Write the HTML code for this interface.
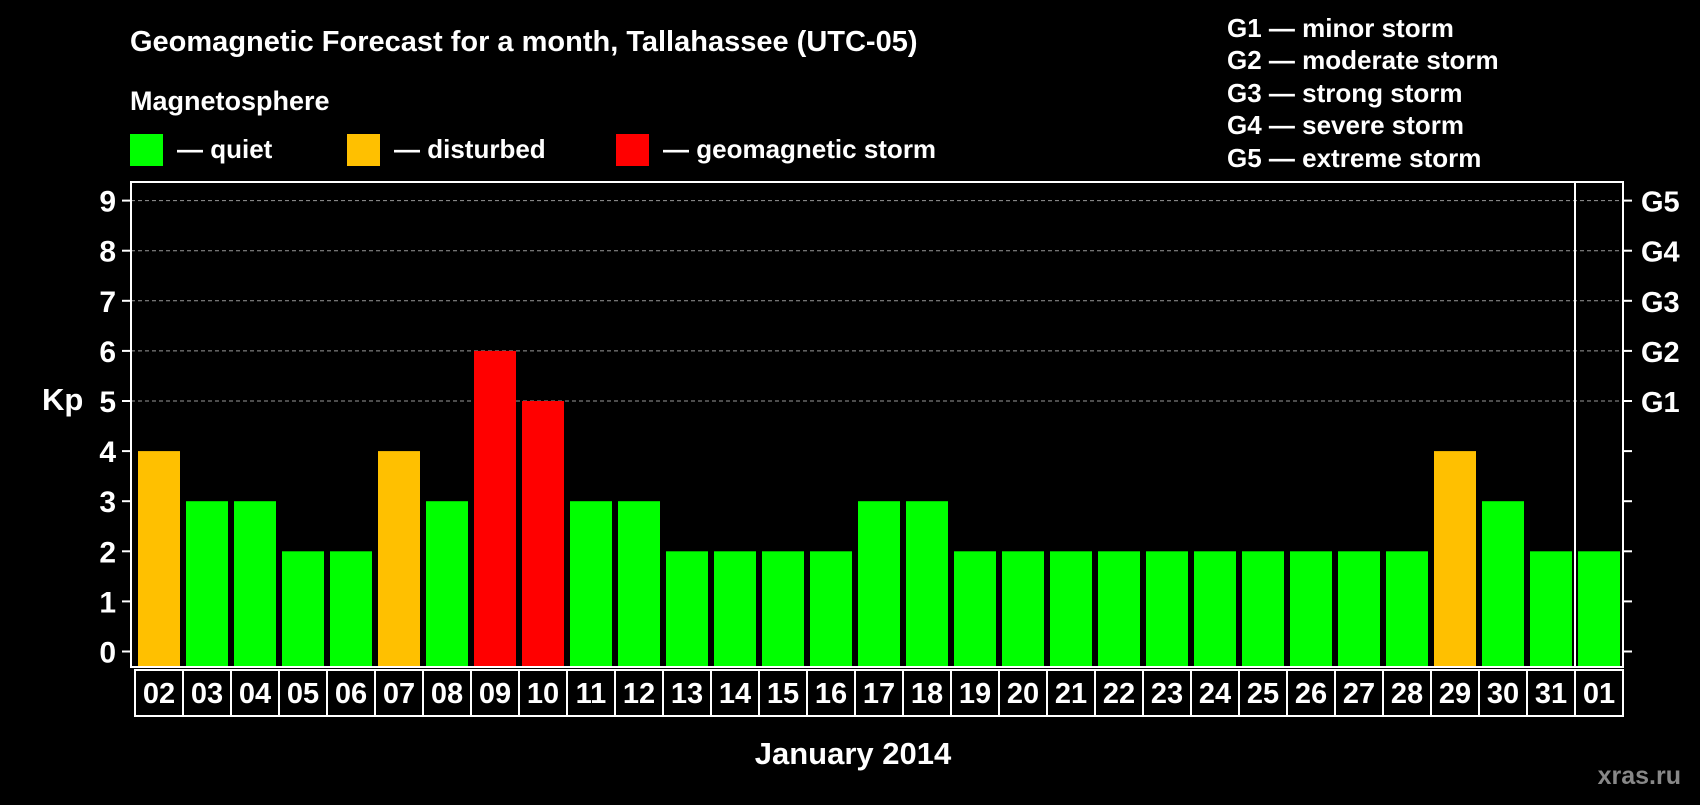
<!DOCTYPE html>
<html><head><meta charset="utf-8"><style>
body{margin:0;background:#000;width:1700px;height:800px;overflow:hidden}
svg text{font-family:"Liberation Sans",sans-serif;font-weight:bold;fill:#fff}
</style></head><body>
<svg id="c" width="1700" height="800">
<text x="130" y="51" font-size="29">Geomagnetic Forecast for a month, Tallahassee (UTC-05)</text>
<text x="130" y="110" font-size="27">Magnetosphere</text>
<rect x="130" y="134" width="33" height="32" fill="#00ff00"/>
<text x="177" y="158" font-size="26">— quiet</text>
<rect x="347" y="134" width="33" height="32" fill="#ffc000"/>
<text x="394" y="158" font-size="26">— disturbed</text>
<rect x="616" y="134" width="33" height="32" fill="#ff0000"/>
<text x="663" y="158" font-size="26">— geomagnetic storm</text>
<g font-size="26">
<text x="1227" y="37">G1 — minor storm</text>
<text x="1227" y="69">G2 — moderate storm</text>
<text x="1227" y="102">G3 — strong storm</text>
<text x="1227" y="134">G4 — severe storm</text>
<text x="1227" y="167">G5 — extreme storm</text>
</g>
<text x="42" y="410" font-size="31">Kp</text>
<text x="853" y="764" font-size="31" text-anchor="middle">January 2014</text>
<text x="1681" y="784" font-size="25" text-anchor="end" style="fill:#888">xras.ru</text>
<g id="plot"></g>
</svg>
<script>
const days=["02","03","04","05","06","07","08","09","10","11","12","13","14","15","16","17","18","19","20","21","22","23","24","25","26","27","28","29","30","31","01"];
const kp=[4,3,3,2,2,4,3,6,5,3,3,2,2,2,2,3,3,2,2,2,2,2,2,2,2,2,2,4,3,2,2];
const yTicks=[0,1,2,3,4,5,6,7,8,9];
const gLabels=["G1","G2","G3","G4","G5"];
const gLevels=[5,6,7,8,9];
const NS="http://www.w3.org/2000/svg";
const g=document.getElementById('plot');
const L=131,R=1623,T=182,B=667;
const y=v=>651.5-v*50.1;
const x=i=>138+48*i;
function mk(t,a){const e=document.createElementNS(NS,t);for(const k in a)e.setAttribute(k,a[k]);g.appendChild(e);return e;}
yTicks.forEach(v=>{
  if(v>=5){const l=mk('line',{x1:L,x2:R,y1:y(v),y2:y(v),stroke:'#999','stroke-dasharray':'4,3','stroke-width':1});
  
  }
  const t1=mk('line',{x1:122,x2:L,y1:y(v),y2:y(v),stroke:'#fff','stroke-width':2});
  
  
  const t2=mk('line',{x1:R,x2:1632,y1:y(v),y2:y(v),stroke:'#fff','stroke-width':2});
  
  
  const tx=mk('text',{x:116,y:y(v)+11,'font-size':30,'text-anchor':'end'});tx.textContent=v;
  
  
});
gLabels.forEach((s,i)=>{const t=mk('text',{x:1641,y:y(gLevels[i])+11,'font-size':29});t.textContent=s;
  
  });
kp.forEach((v,i)=>{
  const c=v>=5?'#ff0000':(v>=4?'#ffc000':'#00ff00');
  const b=mk('rect',{x:x(i),y:y(v),width:42,height:666-y(v),fill:c});
  
  
  const cell=mk('rect',{x:x(i)-3,y:670,width:48,height:46,fill:'none',stroke:'#fff','stroke-width':2});
  
  
  const t=mk('text',{x:x(i)+21,y:703,'font-size':29,'text-anchor':'middle'});t.textContent=days[i];
  
  
});
const fr=mk('rect',{x:L,y:T,width:R-L,height:B-T,fill:'none',stroke:'#fff','stroke-width':2});


const sep=mk('line',{x1:x(30)-3,x2:x(30)-3,y1:T,y2:B,stroke:'#fff','stroke-width':2});


</script>
</body></html>
